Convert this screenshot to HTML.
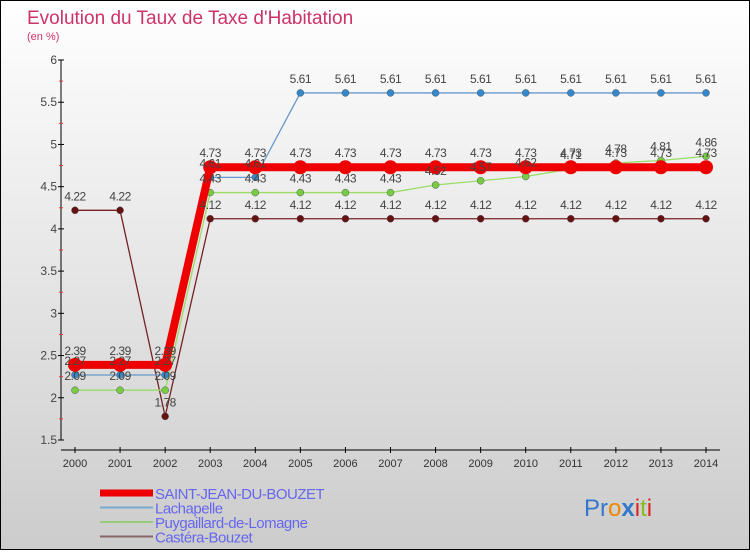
<!DOCTYPE html>
<html><head><meta charset="utf-8"><style>
body{margin:0;width:750px;height:550px;overflow:hidden;font-family:"Liberation Sans",sans-serif}
svg text{font-family:"Liberation Sans",sans-serif}
</style></head><body>
<svg id="c" width="750" height="550" xmlns="http://www.w3.org/2000/svg">
<defs><linearGradient id="bg" x1="0" y1="0" x2="0" y2="1"><stop offset="0" stop-color="#ffffff"/><stop offset="1" stop-color="#cccccc"/></linearGradient></defs>
<rect x="0.5" y="0.5" width="749" height="549" fill="url(#bg)" stroke="#000"/>
<text x="27" y="24" font-size="19" fill="#cc3366">Evolution du Taux de Taxe d'Habitation</text>
<text x="27" y="40" font-size="11" fill="#cc3366">(en %)</text>
<g id="axes"></g><g id="series"></g><g id="legend"></g>
<text x="584" y="516" font-size="24"><tspan fill="#3377cc">Pr</tspan><tspan fill="#ee8800">o</tspan><tspan fill="#3377cc" font-weight="bold">x</tspan><tspan fill="#dd2222">i</tspan><tspan fill="#88bb22">t</tspan><tspan fill="#dd2222">i</tspan></text>
</svg>
<script>
const years=[2000,2001,2002,2003,2004,2005,2006,2007,2008,2009,2010,2011,2012,2013,2014];
const yTicks=[1.5,2,2.5,3,3.5,4,4.5,5,5.5,6];
const saintJean=[2.39,2.39,2.39,4.73,4.73,4.73,4.73,4.73,4.73,4.73,4.73,4.73,4.73,4.73,4.73];
const lachapelle=[2.27,2.27,2.27,4.61,4.61,5.61,5.61,5.61,5.61,5.61,5.61,5.61,5.61,5.61,5.61];
const puygaillard=[2.09,2.09,2.09,4.43,4.43,4.43,4.43,4.43,4.52,4.57,4.62,4.71,4.78,4.81,4.86];
const castera=[4.22,4.22,1.78,4.12,4.12,4.12,4.12,4.12,4.12,4.12,4.12,4.12,4.12,4.12,4.12];
const names=["SAINT-JEAN-DU-BOUZET","Lachapelle","Puygaillard-de-Lomagne","Castéra-Bouzet"];
const NS="http://www.w3.org/2000/svg";
const xs=i=>75+i*(706-75)/(years.length-1);
const ys=v=>440-(v-1.5)*(380/4.5);
function mk(t,a,p){const e=document.createElementNS(NS,t);for(const k in a)e.setAttribute(k,a[k]);p.appendChild(e);return e;}
const ax=document.getElementById('axes');
let e=mk('line',{x1:61,y1:60,x2:61,y2:440,stroke:'#000','stroke-width':1},ax);


e=mk('line',{x1:61,y1:450,x2:720,y2:450,stroke:'#000','stroke-width':1},ax);


yTicks.forEach((t,i)=>{const y=ys(t);mk('line',{x1:58,y1:y,x2:64,y2:y,stroke:'#000'},ax);
 if(i<yTicks.length-1)mk('line',{x1:59,y1:ys(t+0.25),x2:63,y2:ys(t+0.25),stroke:'#e33'},ax);
 const l=mk('text',{x:57,y:y+4,'font-size':12,fill:'#444','text-anchor':'end'},ax);l.textContent=String(t);
 
 });
years.forEach((yr,i)=>{const x=xs(i);mk('line',{x1:x,y1:447,x2:x,y2:453,stroke:'#000'},ax);
 const l=mk('text',{x:x,y:467,'font-size':11,fill:'#333','text-anchor':'middle'},ax);l.textContent=yr;
 
 });
const sg=document.getElementById('series');
const specs=[[castera,'#772222',1.3,3.5],[puygaillard,'#99dd66',1.3,3.5],[lachapelle,'#6699cc',1.3,3.5],[saintJean,'#ee0000',8,7]];
const dotc=['#661111','#77cc44','#3388cc','#ee0000'];
specs.forEach((s,k)=>{const [d,c,w,r]=s;const g=mk('g',{},sg);
 
 
 mk('polyline',{points:d.map((v,i)=>xs(i)+','+ys(v)).join(' '),fill:'none',stroke:c,'stroke-width':w},g);
 d.forEach((v,i)=>{const p=mk('circle',{cx:xs(i),cy:ys(v),r:r,fill:dotc[k],stroke:k==3?'none':'#555','stroke-width':0.5},g);
  
  });});
specs.forEach((s,k)=>{s[0].forEach((v,i)=>{const t=mk('text',{x:xs(i),y:ys(v)-10,'font-size':12,fill:'#444','text-anchor':'middle','letter-spacing':'-0.5'},sg);
 t.textContent=String(v);
 
 });});
const lg=document.getElementById('legend');
const lc=['#ee0000','#77aacc','#99cc77','#886666'],lw=[7,2,2,2];
names.forEach((n,i)=>{const y=493+i*14.5;const g=mk('g',{},lg);
 
 
 mk('line',{x1:100,y1:y,x2:153,y2:y,stroke:lc[i],'stroke-width':lw[i]},g);
 const t=mk('text',{x:155,y:y+6,'font-size':15,fill:'#6666ee','letter-spacing':'-0.5'},g);t.textContent=n;});
</script>
</body></html>
